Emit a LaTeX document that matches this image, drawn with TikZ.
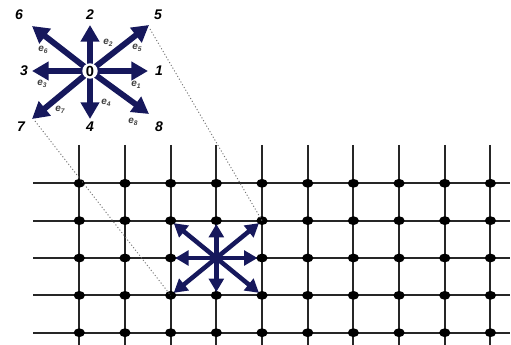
\documentclass[tikz,border=0pt]{standalone}
\usepackage{fontspec}
\setmainfont{Liberation Sans}
\usetikzlibrary{arrows.meta,shapes.geometric}
\definecolor{navy}{RGB}{22,24,92}
\tikzset{
  gridline/.style={line width=1.4pt,draw=black!85},
  gdot/.style={ellipse,fill=black,minimum width=8.4pt,minimum height=6.6pt,inner sep=0pt},
  bigarr/.style={draw=navy,line width=4.4pt,-{Triangle[length=12.5pt,width=13.5pt]}},
  smallarr/.style={draw=navy,line width=3.4pt,-{Triangle[length=10pt,width=11pt]}},
  num/.style={font=\fontsize{10.5}{12}\selectfont\bfseries\itshape,inner sep=0pt},
  elab/.style={font=\fontsize{7.5}{8}\selectfont\bfseries\itshape,text=black!75,inner sep=0pt},
  dotline/.style={draw=black!55,line width=0.7pt,dash pattern=on 0.8pt off 1.6pt}
}
\newcommand{\elabel}[1]{e\raisebox{-1.2pt}{\fontsize{5}{5}\selectfont #1}}
\begin{document}
\begin{tikzpicture}[x=0.75pt,y=-0.75pt]
\useasboundingbox (0,0) rectangle (511,345);
% grid lines
\foreach \i in {0,...,9}{
  \draw[gridline] ({79.3+45.68*\i},145) -- ({79.3+45.68*\i},345);
}
\foreach \j in {0,...,4}{
  \draw[gridline] (33,{183.3+37.35*\j}) -- (510,{183.3+37.35*\j});
}
% grid dots
\foreach \i in {0,...,9}{
  \foreach \j in {0,...,4}{
    \node[gdot] (g-\i-\j) at ({79.3+45.68*\i},{183.3+37.35*\j}) {};
  }
}
% star in the grid
\foreach \a/\b in {4/2,2/2,3/1,3/3,4/1,2/1,2/3,4/3}{
  \draw[smallarr,shorten >=-1pt] (g-3-2.center) -- (g-\a-\b);
}
% top star
\coordinate (t1) at (148,71);
\coordinate (t2) at (90,25);
\coordinate (t3) at (32,71);
\coordinate (t4) at (90,119);
\coordinate (t5) at (149,25);
\coordinate (t6) at (32,26);
\coordinate (t7) at (32,119);
\coordinate (t8) at (149,114);
\coordinate (oc) at (90,71);
\foreach \k in {1,...,8}{
  \draw[bigarr] (oc) -- (t\k);
}
\node[circle,fill=white,inner sep=0.6pt,font=\fontsize{11}{12}\selectfont\bfseries] (o) at (oc) {0};
% dotted connectors
\draw[dotline] (150,29) -- (g-4-1.center);
\draw[dotline] (35,121) -- (g-2-3.center);
% numbers
\node[num] (n6) at (19,15) {6};
\node[num] (n2) at (90,15) {2};
\node[num] (n5) at (158,15) {5};
\node[num] (n3) at (24,71) {3};
\node[num] (n1) at (159,71) {1};
\node[num] (n7) at (21,127) {7};
\node[num] (n4) at (90,127) {4};
\node[num] (n8) at (159,127) {8};
% e labels
\node[elab] (e6) at (43,50) {\elabel{6}};
\node[elab] (e2) at (108,43) {\elabel{2}};
\node[elab] (e5) at (137,48) {\elabel{5}};
\node[elab] (e3) at (42,84) {\elabel{3}};
\node[elab] (e1) at (136,85) {\elabel{1}};
\node[elab] (e7) at (60,110) {\elabel{7}};
\node[elab] (e4) at (106,103) {\elabel{4}};
\node[elab] (e8) at (133,122) {\elabel{8}};
\end{tikzpicture}
\end{document}
